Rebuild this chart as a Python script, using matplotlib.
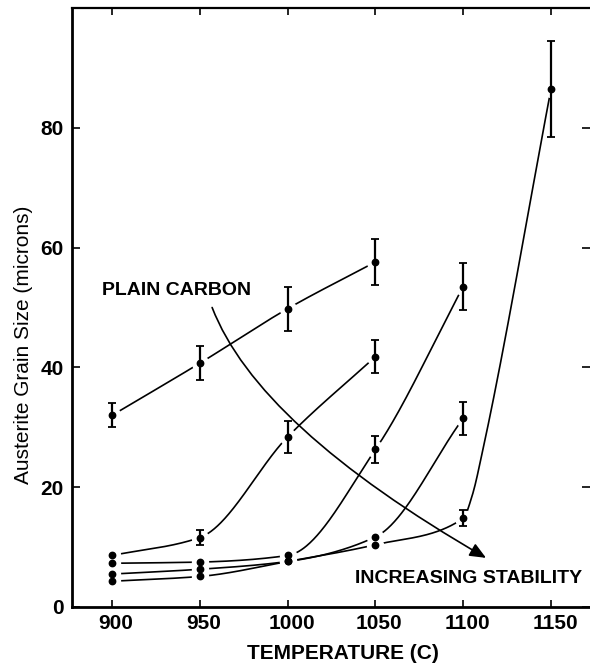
import numpy as np
import matplotlib
matplotlib.use('Agg')
import matplotlib.pyplot as plt
from matplotlib.transforms import ScaledTranslation

plt.rcParams['font.family'] = ['Liberation Sans', 'DejaVu Sans']

# ---- data ----
temps = [900, 950, 1000, 1050, 1100, 1150]
yticks = [0, 20, 40, 60, 80]

A_T = [900, 950, 1000, 1050]            # plain carbon
A_size = [32.0, 40.7, 49.8, 57.6]
A_err = [2.0, 2.8, 3.7, 3.9]

B_T = [900, 950, 1000, 1050]
B_size = [8.6, 11.6, 28.4, 41.8]
B_err = [0.0, 1.3, 2.7, 2.7]

C_T = [900, 950, 1000, 1050, 1100]
C_size = [7.3, 7.5, 8.6, 26.3, 53.5]
C_err = [0.0, 0.0, 0.0, 2.2, 4.0]

D_T = [900, 950, 1000, 1050, 1100]
D_size = [5.5, 6.3, 7.6, 11.7, 31.5]
D_err = [0.0, 0.0, 0.0, 0.0, 2.8]

E_T = [900, 950, 1000, 1050, 1100, 1150]
E_size = [4.3, 5.1, 7.6, 10.4, 14.8, 86.5]
E_err = [0.0, 0.0, 0.0, 0.0, 1.35, 8.0]

# knots of the hand-drawn curve for the most stable steel (knee after 1100 C)
E_curve_T = [900, 950, 1000, 1050, 1100, 1105, 1111, 1150]
E_curve_size = [4.3, 5.1, 7.6, 10.4, 14.8, 18.5, 26.0, 86.5]

series = [
    (A_T, A_size, A_err, A_T, A_size),
    (B_T, B_size, B_err, B_T, B_size),
    (C_T, C_size, C_err, C_T, C_size),
    (D_T, D_size, D_err, D_T, D_size),
    (E_T, E_size, E_err, E_curve_T, E_curve_size),
]


def pchip(x, y, xs):
    x = np.asarray(x, float)
    y = np.asarray(y, float)
    h = np.diff(x)
    delta = np.diff(y) / h
    n = len(x)
    d = np.zeros(n)
    for k in range(1, n - 1):
        if delta[k - 1] * delta[k] > 0:
            w1 = 2 * h[k] + h[k - 1]
            w2 = h[k] + 2 * h[k - 1]
            d[k] = (w1 + w2) / (w1 / delta[k - 1] + w2 / delta[k])
    d[0] = delta[0]
    d[-1] = delta[-1]
    idx = np.clip(np.searchsorted(x, xs) - 1, 0, n - 2)
    t = (xs - x[idx]) / h[idx]
    h00 = 2 * t**3 - 3 * t**2 + 1
    h10 = t**3 - 2 * t**2 + t
    h01 = -2 * t**3 + 3 * t**2
    h11 = t**3 - t**2
    return h00 * y[idx] + h10 * h[idx] * d[idx] + h01 * y[idx + 1] + h11 * h[idx] * d[idx + 1]


fig = plt.figure(figsize=(5.9, 6.65), dpi=100)
ax = fig.add_axes([72 / 590, (665 - 607) / 665, 1 - 72 / 590, (607 - 8) / 665])

for T, s, e, cT, cs in series:
    xs = np.linspace(cT[0], cT[-1], 400)
    ax.plot(xs, pchip(cT, cs, xs), color='black', lw=1.2, zorder=2)
    # white halo leaves the small gap between curve and point
    ax.plot(T, s, 'o', ms=11.5, mfc='white', mec='white', zorder=3)
    Te = [t for t, v in zip(T, e) if v > 0]
    se = [y for y, v in zip(s, e) if v > 0]
    ee = [v for v in e if v > 0]
    if Te:
        ax.errorbar(Te, se, yerr=ee, fmt='none', ecolor='black', elinewidth=1.6,
                    capsize=2.6, capthick=1.3, zorder=4)
    ax.plot(T, s, 'o', ms=4.6, color='black', zorder=5)

ax.text(894.5, 52.8, 'PLAIN CARBON', fontsize=14, fontweight='bold',
        ha='left', va='center')
ax.text(1038.5, 4.8, 'INCREASING STABILITY', fontsize=14, fontweight='bold',
        ha='left', va='center')
ax.annotate('', xy=(1113, 8.2), xytext=(957, 50.0),
            arrowprops=dict(arrowstyle='-|>,head_length=0.7,head_width=0.3',
                            connectionstyle='angle3,angleA=-69,angleB=-30',
                            color='black', lw=1.2, shrinkA=0, shrinkB=0,
                            mutation_scale=14))

ax.set_xlim(877.2, 1172.2)
ax.set_ylim(0, 100)
ax.set_xticks(temps)
ax.set_yticks(yticks)
ax.tick_params(axis='x', direction='in', length=5, width=1.2, top=True,
               pad=5, labelsize=15)
ax.tick_params(axis='y', direction='in', length=6, width=1.2, right=True,
               pad=6, labelsize=15)
for lbl in ax.get_xticklabels() + ax.get_yticklabels():
    lbl.set_fontweight('bold')
shift = ScaledTranslation(4 / 100, 0, fig.dpi_scale_trans)
for lbl in ax.get_xticklabels():
    lbl.set_transform(lbl.get_transform() + shift)

for side in ['left', 'bottom']:
    ax.spines[side].set_linewidth(2.0)
ax.spines['top'].set_linewidth(1.6)
ax.spines['right'].set_visible(False)

fig.text(24 / 590, 1 - 345 / 665, 'Austerite Grain Size (microns)', rotation=90,
         ha='center', va='center', fontsize=15)
fig.text(343 / 590, 1 - 653.5 / 665, 'TEMPERATURE (C)', ha='center', va='center',
         fontsize=15, fontweight='bold')

fig.savefig('out.png', dpi=100)
